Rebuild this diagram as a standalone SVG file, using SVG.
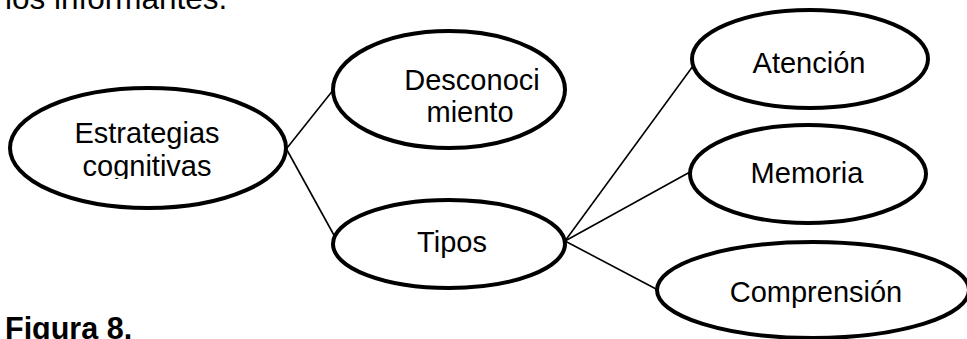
<svg xmlns="http://www.w3.org/2000/svg" width="967" height="339" viewBox="0 0 967 339">
<style>
.n{fill:#fff;stroke:#000;stroke-width:4}
.t{font-family:"Liberation Sans",Arial,sans-serif;font-size:29px;fill:#000;text-anchor:middle}
.c{stroke:#000;stroke-width:1.6;fill:none}
</style>
<defs><clipPath id="clip1"><rect x="0" y="0" width="967" height="179"/></clipPath></defs>
<rect width="967" height="339" fill="#fff"/>
<text x="5" y="9" style="font-family:'Liberation Sans',Arial,sans-serif;font-size:31.5px">los informantes.</text>
<g id="connectors">
<line class="c" x1="287" y1="148" x2="334" y2="89"/>
<line class="c" x1="287" y1="150" x2="335" y2="237"/>
<line class="c" x1="565" y1="241" x2="693" y2="66"/>
<line class="c" x1="565" y1="241" x2="690" y2="172"/>
<line class="c" x1="565" y1="241" x2="658" y2="290"/>
</g>
<g id="n1"><ellipse class="n" cx="148" cy="148" rx="138" ry="60"/><text class="t" x="147" y="143">Estrategias</text><text class="t" x="147" y="176" clip-path="url(#clip1)">cognitivas</text></g>
<g id="n2"><ellipse class="n" cx="449" cy="89.5" rx="116" ry="58.5"/><text class="t" x="472" y="90">Desconoci</text><text class="t" x="470" y="122">miento</text></g>
<g id="n3"><ellipse class="n" cx="449" cy="244" rx="116" ry="44"/><text class="t" x="452" y="252">Tipos</text></g>
<g id="n4"><ellipse class="n" cx="810" cy="59" rx="118" ry="49"/><text class="t" x="809" y="73">Atención</text></g>
<g id="n5"><ellipse class="n" cx="808" cy="174" rx="118" ry="49"/><text class="t" x="807" y="183">Memoria</text></g>
<g id="n6"><ellipse class="n" cx="813" cy="290" rx="156" ry="48"/><text class="t" x="816" y="302">Comprensión</text></g>
<text x="5" y="339" style="font-family:'Liberation Sans',Arial,sans-serif;font-size:30.5px;font-weight:bold">Figura 8.</text>
</svg>
